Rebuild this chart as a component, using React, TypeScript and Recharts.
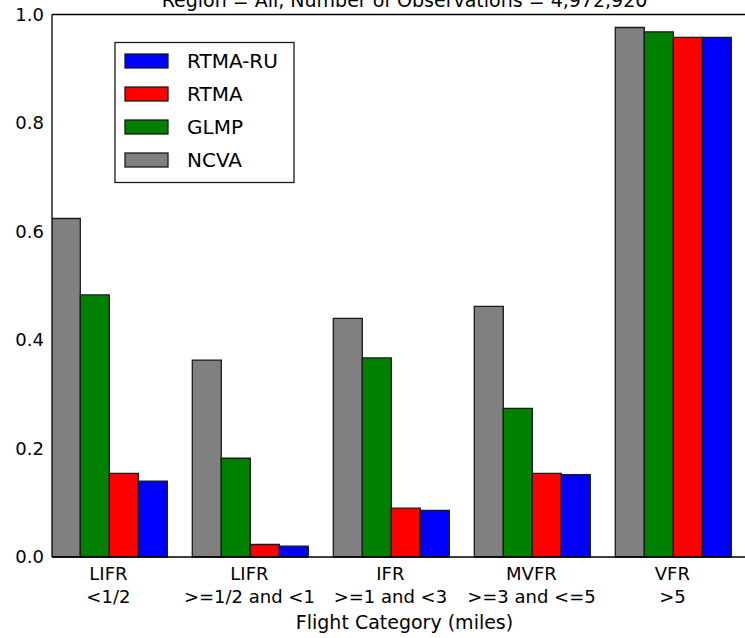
import React from "react";
import { BarChart, Bar, XAxis, YAxis } from "recharts";

const categoryTop = ["LIFR", "LIFR", "IFR", "MVFR", "VFR"];
const categoryBottom = ["<1/2", ">=1/2 and <1", ">=1 and <3", ">=3 and <=5", ">5"];
const xPositions = [0.4, 1.4, 2.4, 3.4, 4.4];
const ncva = [0.624, 0.363, 0.44, 0.462, 0.976];
const glmp = [0.483, 0.182, 0.367, 0.274, 0.968];
const rtma = [0.154, 0.023, 0.09, 0.154, 0.958];
const rtmaRu = [0.14, 0.02, 0.086, 0.152, 0.958];
const yTicks = [0, 0.2, 0.4, 0.6, 0.8, 1.0];
const seriesNames = ["NCVA", "GLMP", "RTMA", "RTMA-RU"];
const seriesColors = ["#808080", "#008000", "#ff0000", "#0000ff"];
const title = "Region = All, Number of Observations = 4,972,920";
const xLabel = "Flight Category (miles)";

const data = xPositions.map((x, i) => ({
  x,
  NCVA: ncva[i],
  GLMP: glmp[i],
  RTMA: rtma[i],
  "RTMA-RU": rtmaRu[i],
}));

const FONT = "'DejaVu Sans', sans-serif";

const XTick = (props: any) => {
  const { x, y, payload } = props;
  const idx = xPositions.indexOf(payload.value);
  return (
    <text x={x} y={y} textAnchor="middle" fontFamily={FONT} fontSize={18} fill="#000">
      <tspan x={x} y={y + 23}>{categoryTop[idx]}</tspan>
      <tspan x={x} y={y + 46}>{categoryBottom[idx]}</tspan>
    </text>
  );
};

const YTick = (props: any) => {
  const { x, y, payload } = props;
  return (
    <text x={x} y={y} dy={6} textAnchor="end" fontFamily={FONT} fontSize={18} fill="#000">
      {Number(payload.value).toFixed(1)}
    </text>
  );
};

const legendOrder = [3, 2, 1, 0];

export default function App() {
  return (
    <div style={{ position: "absolute", left: 0, top: 0, width: 745, height: 638, overflow: "hidden", background: "#fff" }}>
      <BarChart
        width={800}
        height={638}
        data={data}
        margin={{ top: 14.5, right: 43, left: 0, bottom: 0 }}
        barCategoryGap="9.5%"
        barGap={0}
      >
        <XAxis
          dataKey="x"
          type="number"
          domain={[0, 5]}
          ticks={xPositions}
          height={81}
          tickSize={0}
          tickMargin={0}
          tickLine={false}
          axisLine={{ stroke: "#000", strokeWidth: 1.3 }}
          tick={<XTick />}
          interval={0}
          allowDataOverflow
        />
        <XAxis
          xAxisId="top"
          dataKey="x"
          type="number"
          orientation="top"
          mirror
          domain={[0, 5]}
          ticks={xPositions}
          tick={false}
          tickSize={6}
          tickLine={{ stroke: "#000", strokeWidth: 1 }}
          axisLine={{ stroke: "#000", strokeWidth: 1.3 }}
          interval={0}
        />
        <YAxis
          domain={[0, 1]}
          ticks={yTicks}
          width={52}
          tickSize={0}
          tickMargin={8}
          tickLine={false}
          axisLine={{ stroke: "#000", strokeWidth: 1.3 }}
          tick={<YTick />}
          interval={0}
        />
        <YAxis
          yAxisId="ticks"
          orientation="left"
          mirror
          domain={[0, 1]}
          ticks={yTicks}
          tick={false}
          tickSize={6}
          tickLine={{ stroke: "#000", strokeWidth: 1 }}
          axisLine={false}
          interval={0}
        />
        {seriesNames.map((name, i) => (
          <Bar
            key={name}
            dataKey={name}
            fill={seriesColors[i]}
            stroke="#1a1a1a"
            strokeWidth={1.3}
            isAnimationActive={false}
          />
        ))}
      </BarChart>
      <svg width={745} height={30} style={{ position: "absolute", left: 0, top: 0 }}>
        <text x={404.5} y={7} textAnchor="middle" fontFamily={FONT} fontSize={19} fill="#000">
          {title}
        </text>
      </svg>
      <svg width={745} height={40} style={{ position: "absolute", left: 0, top: 598 }}>
        <text x={404.5} y={31} textAnchor="middle" fontFamily={FONT} fontSize={19} fill="#000">
          {xLabel}
        </text>
      </svg>
      <svg width={182} height={143} style={{ position: "absolute", left: 114, top: 41 }}>
        <rect x={1} y={1.5} width={179} height={140} fill="#fff" stroke="#1a1a1a" strokeWidth={1.3} />
        {legendOrder.map((si, k) => (
          <g key={seriesNames[si]}>
            <rect x={11} y={13 + k * 33} width={43} height={14} fill={seriesColors[si]} stroke="#1a1a1a" strokeWidth={1.3} />
            <text x={73} y={20 + k * 33} dy={7} fontFamily={FONT} fontSize={20} fill="#000">
              {seriesNames[si]}
            </text>
          </g>
        ))}
      </svg>
    </div>
  );
}
